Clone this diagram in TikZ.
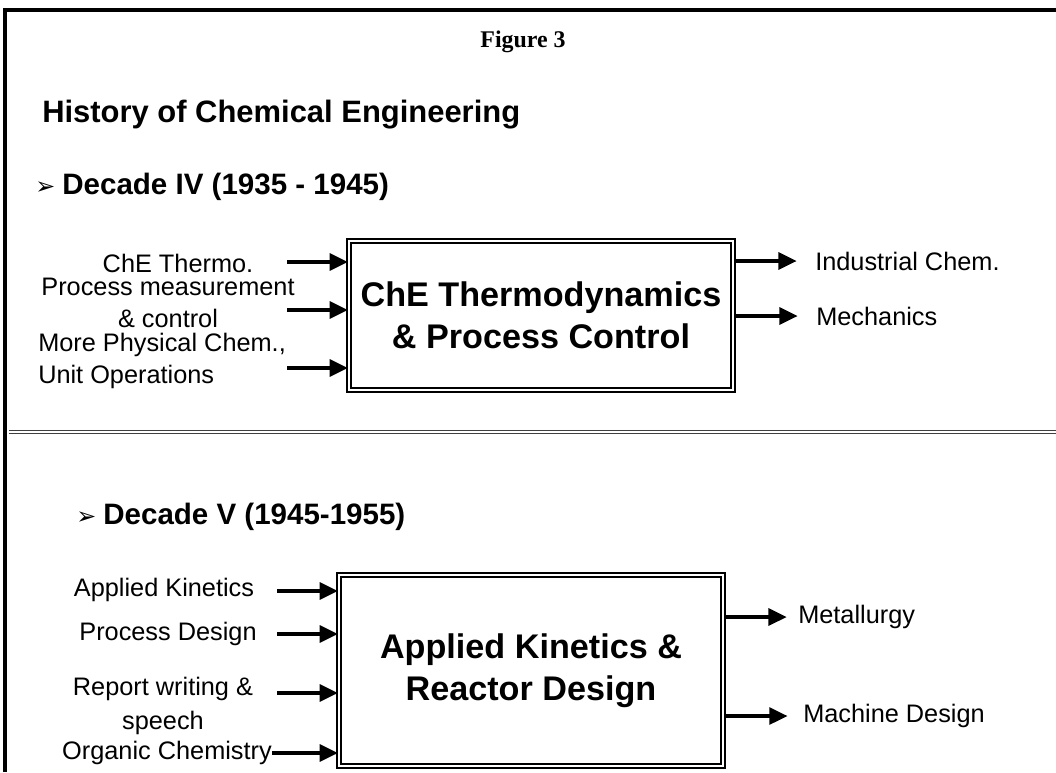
\documentclass[tikz,border=0pt]{standalone}
\usepackage{fontspec}
\setmainfont{Liberation Sans}
\newfontfamily\figfont{Liberation Serif}
\newfontfamily\bulfont{DejaVu Sans}
\usetikzlibrary{arrows.meta,positioning,calc}

\begin{document}
\begin{tikzpicture}[x=0.025cm,y=-0.025cm,
  every node/.style={inner sep=0pt},
  lbl/.style={font=\fontsize{18}{23}\selectfont,align=center},
  blk/.style={draw=black,double,double distance=1.6pt,line width=1.4pt,align=center,font=\fontsize{24.3}{30}\selectfont\bfseries,minimum width=9.6cm},
  hd/.style={anchor=west,font=\fontsize{21}{25}\selectfont\bfseries},
  ar/.style={-{Triangle[length=13pt,width=12pt]},line width=2.5pt}]
\useasboundingbox (0,0) rectangle (1056,772);
% frame and separator
\draw[line width=2.4pt] (5,772) -- (5,10) -- (1056,10);
\draw[black!75,double,double distance=1pt,line width=0.9pt] (9,432) -- (1056,432);
% headings
\node (fig) at (523,42) {\figfont\bfseries\fontsize{17}{20}\selectfont Figure 3};
\node[hd,font=\fontsize{22}{26}\selectfont\bfseries] (hist) at (42,115) {History of Chemical Engineering};
\node[hd] (d4) at (35,187) {{\bulfont\fontsize{17}{20}\selectfont ➢}\hspace{5pt}Decade IV (1935 - 1945)};
\node[hd] (d5) at (76,517) {{\bulfont\fontsize{17}{20}\selectfont ➢}\hspace{5pt}Decade V (1945-1955)};
% decade IV
\node[blk,minimum height=3.72cm] (thermo) at (541,315.5) {ChE Thermodynamics\\\& Process Control};
\node[lbl] (t1) at (178,263) {ChE Thermo.};
\node[lbl] (t2) at (168,303) {Process measurement\\\& control};
\node[lbl,align=left,anchor=west] (t3) at (38,361) {More Physical Chem.,\\Unit Operations};
\coordinate (a1) at (287,262);
\coordinate (a2) at (287,310);
\coordinate (a3) at (287,368);
\draw[ar] (a1) -- (a1 -| thermo.west);
\draw[ar] (a2) -- (a2 -| thermo.west);
\draw[ar] (a3) -- (a3 -| thermo.west);
\node[lbl,anchor=west] (o1) at (815,261) {Industrial Chem.};
\node[lbl,anchor=west] (o2) at (816,316) {Mechanics};
\draw[ar,shorten >=13pt] (thermo.east |- o1) -- (o1.west);
\draw[ar,shorten >=13pt] (thermo.east |- o2) -- (o2.west);
% decade V
\node[blk,minimum height=4.77cm] (kin) at (531,670.5) {Applied Kinetics \&\\Reactor Design};
\node[lbl] (k1) at (164,590) {Applied Kinetics};
\node[lbl] (k2) at (168,634) {Process Design};
\node[lbl,font=\fontsize{18}{24}\selectfont] (k3) at (163,706) {Report writing \&\\speech};
\node[lbl] (k4) at (167,753) {Organic Chemistry};
\coordinate (b1) at (277,591);
\coordinate (b2) at (277,634);
\coordinate (b3) at (277,693);
\coordinate (b4) at (k4.east |- 0,753);
\draw[ar] (b1) -- (b1 -| kin.west);
\draw[ar] (b2) -- (b2 -| kin.west);
\draw[ar] (b3) -- (b3 -| kin.west);
\draw[ar] (b4) -- (b4 -| kin.west);
\node[lbl,anchor=west] (m1) at (798,617) {Metallurgy};
\node[lbl,anchor=west] (m2) at (803,716) {Machine Design};
\draw[ar,shorten >=8pt] (kin.east |- m1) -- (m1.west);
\draw[ar,shorten >=11pt] (kin.east |- m2) -- (m2.west);
\end{tikzpicture}
\end{document}
